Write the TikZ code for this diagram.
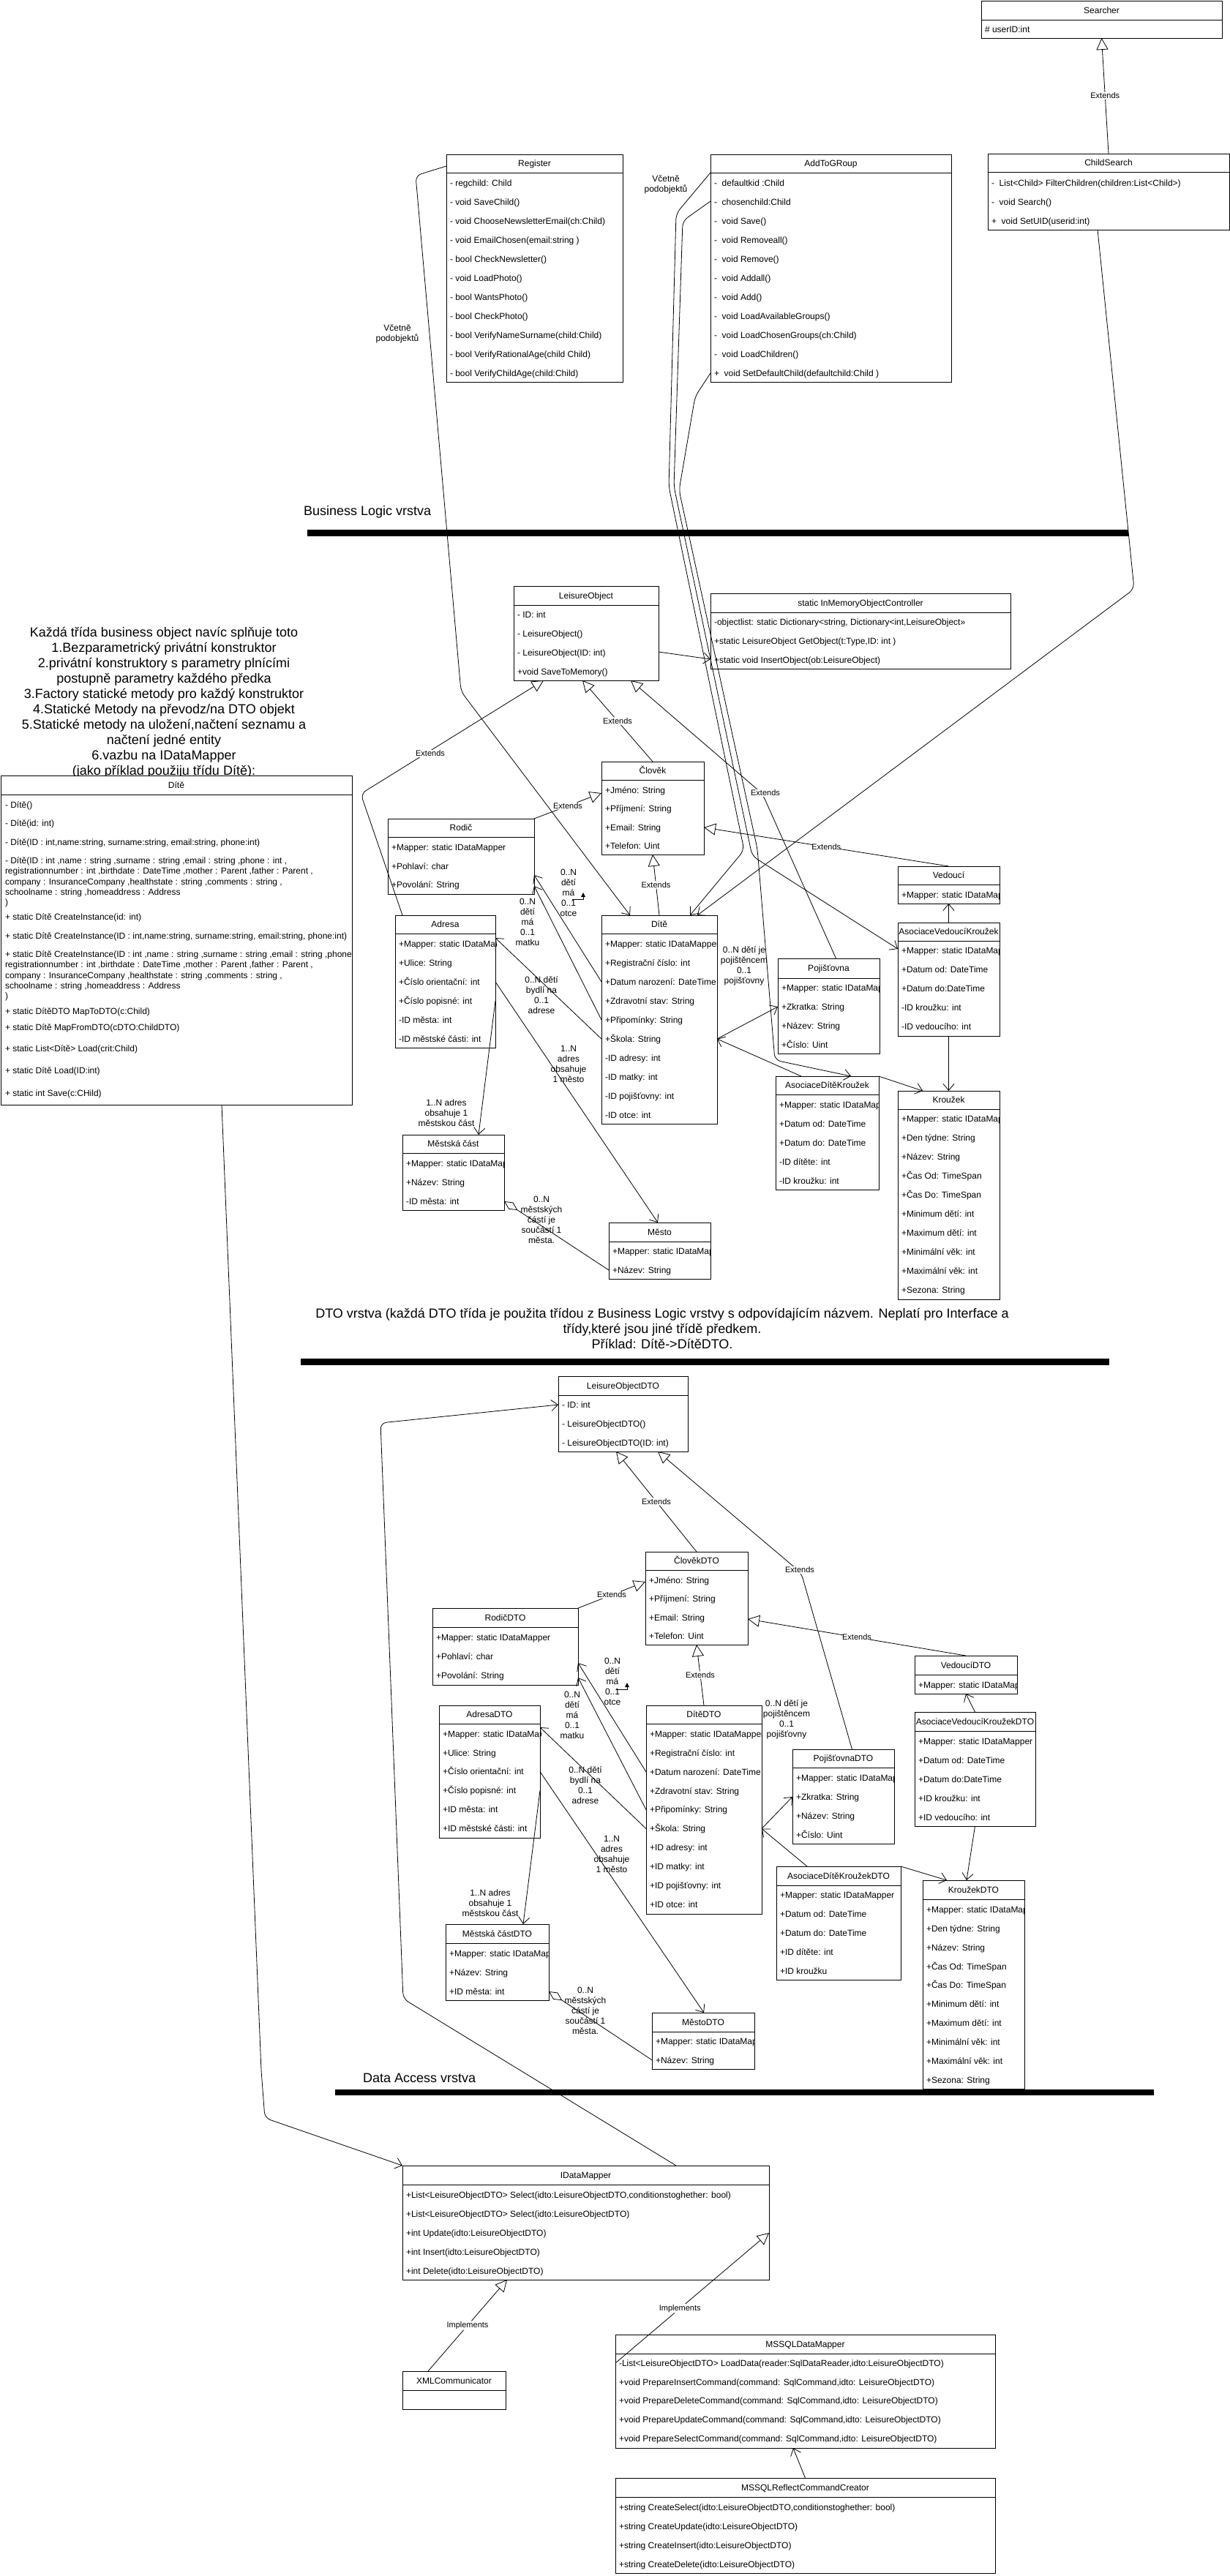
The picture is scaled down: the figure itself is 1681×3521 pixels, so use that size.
\documentclass[tikz,border=0pt]{standalone}
\usepackage{fontspec}
\setmainfont{Liberation Sans}
\usetikzlibrary{arrows.meta}

\newcommand{\fsz}[2]{\fontsize{#1}{#2}\selectfont}

\tikzset{
  classbox/.style={draw, line width=1pt, fill=white, inner sep=0pt, outer sep=0pt, anchor=north west},
  rowtxt/.style={anchor=west, inner sep=0pt, outer sep=0pt, font=\fsz{12}{14}, text height=9pt, text depth=0.4pt},
  rowblock/.style={anchor=west, align=left, inner sep=0pt, outer sep=0pt, font=\fsz{12}{14.3}},
  ttltxt/.style={inner sep=0pt, outer sep=0pt, font=\fsz{12}{14}, text height=9pt, text depth=0.4pt},
  conn/.style={line width=0.8pt, rounded corners=8pt},
  toarrow/.style={conn, -{Straight Barb[length=9pt,width=15pt]}},
  extends/.style={conn, -{Triangle[length=16pt,width=16pt,fill=white]}},
  aggregation/.style={conn, {Diamond[length=22pt,width=11pt,fill=white]}-},
  edgelbl/.style={fill=white, inner sep=1pt, font=\fsz{11}{13}},
  multlbl/.style={align=center, inner sep=0pt, font=\fsz{12}{14}},
  heading/.style={inner sep=0pt, font=\fsz{18}{21}},
  layerbar/.style={fill=black},
}

% class box: name, x1, y1, x2, y2, header bottom, title
\newcommand{\umlclass}[7]{%
  \node[classbox, minimum width={(#4-#2)*1pt}, minimum height={(#5-#3)*1pt}] (#1) at (#2,#3) {};
  \draw[line width=1pt] (#2,#6) -- (#4,#6);
  \node[ttltxt] (#1-t) at ({(#2+#4)/2},{(#3+#6)/2}) {#7};
}
% class rows: name, x1, y1, x2, y2, first row y, row step, rows
\newcommand{\umlrows}[8]{%
  \begin{scope}
    \clip (#2,#3) rectangle (#4,#5);
    \foreach \rowtext [count=\ri] in {#8} {
      \node[rowtxt] (#1-\ri) at ({#2+5},{#6+(\ri-1)*#7}) {\rowtext};
    }
  \end{scope}
}

\begin{document}
\begin{tikzpicture}[x=1pt,y=-1pt]
\useasboundingbox (0,0) rectangle (1681,3521);
\fill[white] (0,0) rectangle (1681,3521);

% ---------------- notes and layer headings
\node[heading, align=center] (note) at (224,960) {Každá třída business object navíc splňuje toto\\
1.Bezparametrický privátní konstruktor\\
2.privátní konstruktory s parametry plnícími\\
postupně parametry každého předka\\
3.Factory statické metody pro každý konstruktor\\
4.Statické Metody na převodz/na DTO objekt\\
5.Statické metody na uložení,načtení seznamu a\\
načtení jedné entity\\
6.vazbu na IDataMapper\\
(jako příklad použiju třídu Dítě):};

\node[heading, anchor=west] (hdr-bl) at (415,700) {Business Logic vrstva};
\fill[layerbar] (420,724) rectangle (1542,733);

\node[heading, align=center] (hdr-dto) at (905,1816) {DTO vrstva (každá DTO třída je použita třídou z Business Logic vrstvy s odpovídajícím názvem. Neplatí pro Interface a\\
třídy,které jsou jiné třídě předkem.\\
Příklad: Dítě->DítěDTO.};
\fill[layerbar] (411,1857) rectangle (1516,1866);

\node[heading, anchor=west] (hdr-da) at (496,2840) {Data Access vrstva};
\fill[layerbar] (458,2856) rectangle (1577,2864);

% ---------------- presentation classes
\umlclass{searcher}{1341}{1}{1670}{52}{27}{Searcher}
\umlrows{searcher}{1341}{1}{1670}{52}{40}{26}{\# userID:int}

\umlclass{childsearch}{1350}{210}{1680}{314}{235}{ChildSearch}
\umlrows{childsearch}{1350}{210}{1680}{314}{250}{26}{-~~List<Child> FilterChildren(children:List<Child>), -~~void Search(), +~~void SetUID(userid:int)}

\umlclass{register}{610}{211}{851}{522}{236}{Register}
\umlrows{register}{610}{211}{851}{522}{250}{26}{- regchild: Child, - void SaveChild(), - void ChooseNewsletterEmail(ch:Child), - void EmailChosen(email:string ), - bool CheckNewsletter(), - void LoadPhoto(), - bool WantsPhoto(), - bool CheckPhoto(), - bool VerifyNameSurname(child:Child), - bool VerifyRationalAge(child Child), - bool VerifyChildAge(child:Child)}

\umlclass{addtogroup}{971}{211}{1300}{522}{236}{AddToGRoup}
\umlrows{addtogroup}{971}{211}{1300}{522}{250}{26}{-~~defaultkid :Child, -~~chosenchild:Child, -~~void Save(), -~~void Removeall(), -~~void Remove(), -~~void Addall(), -~~void Add(), -~~void LoadAvailableGroups(), -~~void LoadChosenGroups(ch:Child), -~~void LoadChildren(), +~~void SetDefaultChild(defaultchild:Child )}

% ---------------- business logic classes
\umlclass{leisure}{702}{801}{900}{930}{827}{LeisureObject}
\umlrows{leisure}{702}{801}{900}{930}{840}{26}{- ID: int, - LeisureObject(), - LeisureObject(ID: int), +void SaveToMemory()}

\umlclass{inmem}{971}{811}{1381}{914}{837}{static InMemoryObjectController}
\umlrows{inmem}{971}{811}{1381}{914}{850}{26}{{-objectlist: static Dictionary<string, Dictionary<int,LeisureObject>>}, {+static LeisureObject GetObject(t:Type,ID: int )}, +static void InsertObject(ob:LeisureObject)}

\umlclass{dite}{1}{1060}{481}{1510}{1086}{Dítě}
\begin{scope}
  \clip (1,1060) rectangle (481,1510);
  \node[rowtxt] (dite-1) at (7,1100) {- Dítě()};
  \node[rowtxt] (dite-2) at (7,1125.5) {- Dítě(id: int)};
  \node[rowtxt] (dite-3) at (7,1151.4) {- Dítě(ID : int,name:string, surname:string, email:string, phone:int)};
  \node[rowblock] (dite-4) at (7,1206) {- Dítě(ID : int ,name : string ,surname : string ,email : string ,phone : int ,\\registrationnumber : int ,birthdate : DateTime ,mother : Parent ,father : Parent ,\\company : InsuranceCompany ,healthstate : string ,comments : string ,\\schoolname : string ,homeaddress : Address\\)};
  \node[rowtxt] (dite-5) at (7,1253) {+ static Dítě CreateInstance(id: int)};
  \node[rowtxt] (dite-6) at (7,1279.6) {+ static Dítě CreateInstance(ID : int,name:string, surname:string, email:string, phone:int)};
  \node[rowblock] (dite-7) at (7,1334) {+ static Dítě CreateInstance(ID : int ,name : string ,surname : string ,email : string ,phone : int ,\\registrationnumber : int ,birthdate : DateTime ,mother : Parent ,father : Parent ,\\company : InsuranceCompany ,healthstate : string ,comments : string ,\\schoolname : string ,homeaddress : Address\\)};
  \node[rowtxt] (dite-8) at (7,1382.2) {+ static DítěDTO MapToDTO(c:Child)};
  \node[rowtxt] (dite-9) at (7,1403.7) {+ static Dítě MapFromDTO(cDTO:ChildDTO)};
  \node[rowtxt] (dite-10) at (7,1433.6) {+ static List<Dítě> Load(crit:Child)};
  \node[rowtxt] (dite-11) at (7,1463.5) {+ static Dítě Load(ID:int)};
  \node[rowtxt] (dite-12) at (7,1493.8) {+ static int Save(c:CHild)};
\end{scope}

\umlclass{clovek}{822}{1041}{962}{1168}{1066}{Člověk}
\umlrows{clovek}{822}{1041}{962}{1168}{1080}{25.5}{+Jméno: String, +Příjmení: String, +Email: String, +Telefon: Uint}

\umlclass{rodic}{530}{1119}{730}{1222}{1144}{Rodič}
\umlrows{rodic}{530}{1119}{730}{1222}{1158}{25.7}{+Mapper: static IDataMapper, +Pohlaví: char, +Povolání: String}

\umlclass{adresa}{540}{1251}{677}{1432}{1276}{Adresa}
\umlrows{adresa}{540}{1251}{677}{1432}{1290}{26}{+Mapper: static IDataMapper, +Ulice: String, +Číslo orientační: int, +Číslo popisné: int, -ID města: int, -ID městské části: int}

\umlclass{ditebl}{822}{1251}{980}{1536}{1276}{Dítě}
\umlrows{ditebl}{822}{1251}{980}{1536}{1290}{26}{+Mapper: static IDataMapper, +Registrační číslo: int, +Datum narození: DateTime, +Zdravotní stav: String, +Připomínky: String, +Škola: String, -ID adresy: int, -ID matky: int, -ID pojišťovny: int, -ID otce: int}

\umlclass{pojistovna}{1063}{1310}{1202}{1440}{1337}{Pojišťovna}
\umlrows{pojistovna}{1063}{1310}{1202}{1440}{1350}{26}{+Mapper: static IDataMapper, +Zkratka: String, +Název: String, +Číslo: Uint}

\umlclass{vedouci}{1227}{1184}{1366}{1235}{1209}{Vedoucí}
\umlrows{vedouci}{1227}{1184}{1366}{1235}{1223}{26}{+Mapper: static IDataMapper}

\umlclass{avk}{1227}{1261}{1366}{1416}{1286}{AsociaceVedoucíKroužek}
\umlrows{avk}{1227}{1261}{1366}{1416}{1299}{26}{+Mapper: static IDataMapper, +Datum od: DateTime, +Datum do:DateTime, -ID kroužku: int, -ID vedoucího: int}

\umlclass{adk}{1060}{1471}{1201}{1626}{1496}{AsociaceDítěKroužek}
\umlrows{adk}{1060}{1471}{1201}{1626}{1510}{26}{+Mapper: static IDataMapper, +Datum od: DateTime, +Datum do: DateTime, -ID dítěte: int, -ID kroužku: int}

\umlclass{krouzek}{1227}{1491}{1366}{1776}{1516}{Kroužek}
\umlrows{krouzek}{1227}{1491}{1366}{1776}{1529}{26}{+Mapper: static IDataMapper, +Den týdne: String, +Název: String, +Čas Od: TimeSpan, +Čas Do: TimeSpan, +Minimum dětí: int, +Maximum dětí: int, +Minimální věk: int, +Maximální věk: int, +Sezona: String}

\umlclass{mestskacast}{550}{1551}{689}{1654}{1576}{Městská část}
\umlrows{mestskacast}{550}{1551}{689}{1654}{1590}{26}{+Mapper: static IDataMapper, +Název: String, -ID města: int}

\umlclass{mesto}{832}{1671}{971}{1748}{1697}{Město}
\umlrows{mesto}{832}{1671}{971}{1748}{1710}{26}{+Mapper: static IDataMapper, +Název: String}

% ---------------- DTO classes
\umlclass{leisuredto}{763}{1881}{940}{1984}{1907}{LeisureObjectDTO}
\umlrows{leisuredto}{763}{1881}{940}{1984}{1920}{26}{- ID: int, - LeisureObjectDTO(), - LeisureObjectDTO(ID: int)}

\umlclass{clovekdto}{882}{2121}{1022}{2248}{2146}{ČlověkDTO}
\umlrows{clovekdto}{882}{2121}{1022}{2248}{2160}{25.5}{+Jméno: String, +Příjmení: String, +Email: String, +Telefon: Uint}

\umlclass{rodicdto}{591}{2198}{790}{2303}{2224}{RodičDTO}
\umlrows{rodicdto}{591}{2198}{790}{2303}{2238}{26}{+Mapper: static IDataMapper, +Pohlaví: char, +Povolání: String}

\umlclass{vedoucidto}{1250}{2263}{1390}{2315}{2289}{VedoucíDTO}
\umlrows{vedoucidto}{1250}{2263}{1390}{2315}{2303}{26}{+Mapper: static IDataMapper}

\umlclass{adresadto}{600}{2331}{738}{2512}{2356}{AdresaDTO}
\umlrows{adresadto}{600}{2331}{738}{2512}{2370}{25.8}{+Mapper: static IDataMapper, +Ulice: String, +Číslo orientační: int, +Číslo popisné: int, +ID města: int, +ID městské části: int}

\umlclass{ditedto}{883}{2331}{1041}{2616}{2356}{DítěDTO}
\umlrows{ditedto}{883}{2331}{1041}{2616}{2370}{25.9}{+Mapper: static IDataMapper, +Registrační číslo: int, +Datum narození: DateTime, +Zdravotní stav: String, +Připomínky: String, +Škola: String, +ID adresy: int, +ID matky: int, +ID pojišťovny: int, +ID otce: int}

\umlclass{pojistovnadto}{1083}{2391}{1222}{2520}{2416}{PojišťovnaDTO}
\umlrows{pojistovnadto}{1083}{2391}{1222}{2520}{2430}{25.9}{+Mapper: static IDataMapper, +Zkratka: String, +Název: String, +Číslo: Uint}

\umlclass{avkdto}{1250}{2340}{1415}{2496}{2366}{AsociaceVedoucíKroužekDTO}
\umlrows{avkdto}{1250}{2340}{1415}{2496}{2380}{26}{+Mapper: static IDataMapper, +Datum od: DateTime, +Datum do:DateTime, +ID kroužku: int, +ID vedoucího: int}

\umlclass{adkdto}{1061}{2551}{1231}{2706}{2577}{AsociaceDítěKroužekDTO}
\umlrows{adkdto}{1061}{2551}{1231}{2706}{2590}{26}{+Mapper: static IDataMapper, +Datum od: DateTime, +Datum do: DateTime, +ID dítěte: int, +ID kroužku}

\umlclass{krouzekdto}{1261}{2570}{1400}{2855}{2596}{KroužekDTO}
\umlrows{krouzekdto}{1261}{2570}{1400}{2855}{2610}{25.9}{+Mapper: static IDataMapper, +Den týdne: String, +Název: String, +Čas Od: TimeSpan, +Čas Do: TimeSpan, +Minimum dětí: int, +Maximum dětí: int, +Minimální věk: int, +Maximální věk: int, +Sezona: String}

\umlclass{mestskacastdto}{609}{2630}{750}{2734}{2656}{Městská částDTO}
\umlrows{mestskacastdto}{609}{2630}{750}{2734}{2670}{26}{+Mapper: static IDataMapper, +Název: String, +ID města: int}

\umlclass{mestodto}{891}{2751}{1031}{2828}{2777}{MěstoDTO}
\umlrows{mestodto}{891}{2751}{1031}{2828}{2790}{25.7}{+Mapper: static IDataMapper, +Název: String}

% ---------------- data access classes
\umlclass{idatamapper}{550}{2960}{1051}{3116}{2986}{IDataMapper}
\umlrows{idatamapper}{550}{2960}{1051}{3116}{3000}{26}{{+List<LeisureObjectDTO> Select(idto:LeisureObjectDTO,conditionstoghether: bool)}, +List<LeisureObjectDTO> Select(idto:LeisureObjectDTO), +int Update(idto:LeisureObjectDTO), +int Insert(idto:LeisureObjectDTO), +int Delete(idto:LeisureObjectDTO)}

\umlclass{xml}{550}{3241}{691}{3293}{3267}{XMLCommunicator}

\umlclass{mssql}{841}{3191}{1360}{3346}{3217}{MSSQLDataMapper}
\umlrows{mssql}{841}{3191}{1360}{3346}{3230}{25.8}{{-List<LeisureObjectDTO> LoadData(reader:SqlDataReader,idto:LeisureObjectDTO)}, {+void PrepareInsertCommand(command: SqlCommand,idto: LeisureObjectDTO)}, {+void PrepareDeleteCommand(command: SqlCommand,idto: LeisureObjectDTO)}, {+void PrepareUpdateCommand(command: SqlCommand,idto: LeisureObjectDTO)}, {+void PrepareSelectCommand(command: SqlCommand,idto: LeisureObjectDTO)}}

\umlclass{reflect}{841}{3387}{1360}{3517}{3413}{MSSQLReflectCommandCreator}
\umlrows{reflect}{841}{3387}{1360}{3517}{3427}{25.9}{{+string CreateSelect(idto:LeisureObjectDTO,conditionstoghether: bool)}, +string CreateUpdate(idto:LeisureObjectDTO), +string CreateInsert(idto:LeisureObjectDTO), +string CreateDelete(idto:LeisureObjectDTO)}

% ---------------- presentation connectors
\draw[extends] (childsearch.north) -- node[edgelbl] (lbl-cs) {Extends} (searcher.south);
\draw[toarrow] ([yshift=-16pt]register.north west) -- (568,240) -- (630,945) -- ([xshift=39pt]ditebl.north west);
\draw[toarrow] ([yshift=-25pt]addtogroup.north west) -- (924,292) -- (914,665) -- (1017,1162) -- ([xshift=121pt]ditebl.north west);
\draw[toarrow] ([yshift=-64pt]addtogroup.north west) -- (933,302) -- (921,665) -- (1028,1170) -- ([yshift=-36pt]avk.north west);
\draw[toarrow] ([yshift=-299pt]addtogroup.north west) -- (950,542) -- (928,670) -- (1035,1160) -- (1059,1449) -- ([xshift=103pt]adk.north west);
\draw[toarrow] ([xshift=-15pt]childsearch.south) -- (1550,805) -- ([xshift=131pt]ditebl.north west);
\node[multlbl] (incl-a) at (910,252) {Včetně\\podobjektů};
\node[multlbl] (incl-b) at (543,456) {Včetně\\podobjektů};

% ---------------- business logic connectors
\draw[toarrow] ([yshift=-90pt]leisure.north east) -- ([yshift=-90pt]inmem.north west);
\draw[extends] ([xshift=10pt]adresa.north west) -- (493,1085) -- ([xshift=41pt]leisure.south west);
\node[edgelbl] (lbl-ad) at (588,1030) {Extends};
\draw[extends] (clovek.north) -- node[edgelbl] (lbl-cl) {Extends} ([xshift=94pt]leisure.south west);
\draw[extends] ([xshift=10pt]pojistovna.north) -- (1042,1085) -- ([xshift=160pt]leisure.south west);
\node[edgelbl] (lbl-po) at (1046,1084) {Extends};
\draw[extends] (rodic.north east) -- node[edgelbl] (lbl-ro) {Extends} ([yshift=-43pt]clovek.north west);
\draw[extends] (ditebl.north) -- node[edgelbl] (lbl-di) {Extends} (clovek.south);
\draw[extends] (vedouci.north) -- node[edgelbl] (lbl-ve) {Extends} ([yshift=-90pt]clovek.north east);

\draw[toarrow] (ditebl.west |- ditebl-3) -- ([yshift=-77pt]rodic.north east);
\draw[toarrow] (ditebl.west |- ditebl-5) -- ([yshift=-92pt]rodic.north east);
\draw[toarrow] (ditebl.west |- ditebl-6) -- ([yshift=-31pt]adresa.north east);
\draw[toarrow] (adresa.east |- adresa-3) -- ([xshift=67pt]mesto.north west);
\draw[toarrow] (adresa.east |- adresa-4) -- ([xshift=104pt]mestskacast.north west);
\draw[aggregation] (mestskacast.east |- mestskacast-3) -- (mesto.west |- mesto-2);
\draw[toarrow] (ditebl.east |- ditebl-6) -- (pojistovna.west |- pojistovna-2);
\draw[toarrow] ([xshift=35pt]adk.north west) -- (ditebl.east |- ditebl-6);
\draw[toarrow] (avk.north) -- (vedouci.south);
\draw[toarrow] (avk.south) -- (krouzek.north);
\draw[toarrow] (adk.north east) -- ([xshift=34pt]krouzek.north west);

\node[multlbl] (m-otce) at (777,1220) {0..N\\dětí\\má\\0..1\\otce};
\node[multlbl] (m-matku) at (721,1260) {0..N\\dětí\\má\\0..1\\matku};
\node[multlbl] (m-adr) at (740,1360) {0..N dětí\\bydlí na\\0..1\\adrese};
\node[multlbl] (m-mesto) at (777,1454) {1..N\\adres\\obsahuje\\1 město};
\node[multlbl] (m-cast) at (610,1521) {1..N adres\\obsahuje 1\\městskou část};
\node[multlbl] (m-poj) at (1017,1320) {0..N dětí je\\pojištěncem\\0..1\\pojišťovny};
\node[multlbl] (m-agg) at (740,1667) {0..N\\městských\\částí je\\součástí 1\\města.};
\draw[line width=0.8pt] (782,1229.5) -- (797,1229.5) -- (797,1225);
\fill (794,1226) -- (800,1226) -- (797,1220) -- cycle;

% ---------------- DTO connectors
\draw[extends] (clovekdto.north) -- node[edgelbl] (lbl-dcl) {Extends} ([xshift=79pt]leisuredto.south west);
\draw[extends] ([xshift=12pt]pojistovnadto.north) -- (1095,2150) -- ([xshift=136pt]leisuredto.south west);
\node[edgelbl] (lbl-dpo) at (1093,2146) {Extends};
\draw[extends] (rodicdto.north east) -- node[edgelbl] (lbl-dro) {Extends} ([yshift=-41pt]clovekdto.north west);
\draw[extends] (vedoucidto.north) -- node[edgelbl] (lbl-dve) {Extends} ([yshift=-92pt]clovekdto.north east);
\draw[extends] (ditedto.north) -- node[edgelbl] (lbl-ddi) {Extends} (clovekdto.south);

\draw[toarrow] (ditedto.west |- ditedto-3) -- ([yshift=-75pt]rodicdto.north east);
\draw[toarrow] (ditedto.west |- ditedto-5) -- ([yshift=-95pt]rodicdto.north east);
\draw[toarrow] (ditedto.west |- ditedto-6) -- ([yshift=-30pt]adresadto.north east);
\draw[toarrow] (adresadto.east |- adresadto-3) -- ([xshift=71pt]mestodto.north west);
\draw[toarrow] (adresadto.east |- adresadto-4) -- ([xshift=106pt]mestskacastdto.north west);
\draw[aggregation] (mestskacastdto.east |- mestskacastdto-3) -- (mestodto.west |- mestodto-2);
\draw[toarrow] (ditedto.east |- ditedto-6) -- (pojistovnadto.west |- pojistovnadto-2);
\draw[toarrow] ([xshift=42pt]adkdto.north west) -- (ditedto.east |- ditedto-6);
\draw[toarrow] (avkdto.north) -- (vedoucidto.south);
\draw[toarrow] (avkdto.south) -- ([xshift=60pt]krouzekdto.north west);
\draw[toarrow] (adkdto.north east) -- ([xshift=33pt]krouzekdto.north west);

\node[multlbl] (md-otce) at (837,2298) {0..N\\dětí\\má\\0..1\\otce};
\node[multlbl] (md-matku) at (782,2344) {0..N\\dětí\\má\\0..1\\matku};
\node[multlbl] (md-adr) at (800,2440) {0..N dětí\\bydlí na\\0..1\\adrese};
\node[multlbl] (md-mesto) at (836,2534) {1..N\\adres\\obsahuje\\1 město};
\node[multlbl] (md-cast) at (670,2601) {1..N adres\\obsahuje 1\\městskou část};
\node[multlbl] (md-poj) at (1075,2350) {0..N dětí je\\pojištěncem\\0..1\\pojišťovny};
\node[multlbl] (md-agg) at (800,2748) {0..N\\městských\\částí je\\součástí 1\\města.};
\draw[line width=0.8pt] (842,2309) -- (857,2309) -- (857,2305);
\fill (854,2306) -- (860,2306) -- (857,2300) -- cycle;

% ---------------- data access connectors
\draw[toarrow] ([xshift=302pt]dite.south west) -- (357,2830) -- (362,2895) -- (idatamapper.north west);
\draw[toarrow] ([xshift=374pt]idatamapper.north west) -- (551,2732) -- (520,1945) -- (leisuredto.west |- leisuredto-1);
\draw[extends] ([xshift=35pt]xml.north west) -- node[edgelbl] (lbl-xml) {Implements} ([xshift=143pt]idatamapper.south west);
\draw[extends] (mssql.west |- mssql-1) -- node[edgelbl, pos=0.42] (lbl-ms) {Implements} (idatamapper.east |- idatamapper-3);
\draw[toarrow] (reflect.north) -- ([xshift=243pt]mssql.south west);

\end{tikzpicture}
\end{document}
